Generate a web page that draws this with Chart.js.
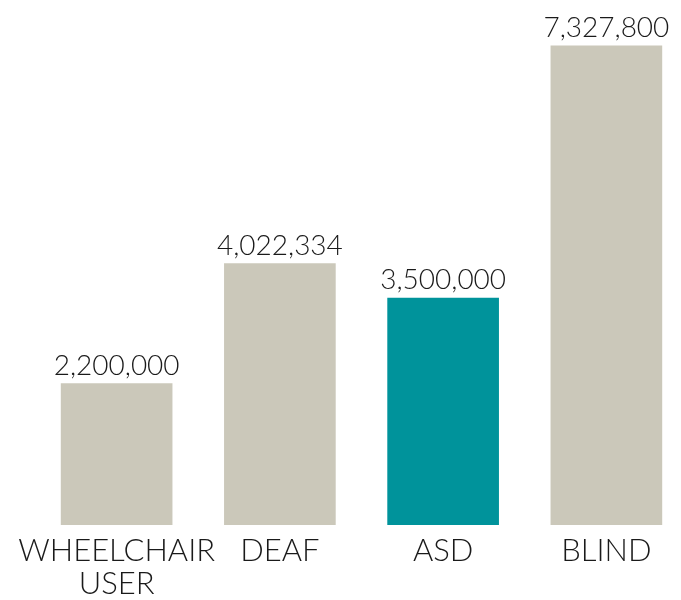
<!DOCTYPE html>
<html>
<head>
<meta charset="utf-8">
<script src="https://cdn.jsdelivr.net/npm/chart.js@4"></script>
<style>
	html, body { margin: 0; padding: 0; background: #fff; overflow: hidden; }
	#wrap { width: 690px; height: 600px; }
</style>
</head>
<body>
<div id="wrap"><canvas id="chart"></canvas></div>
<script>
var categories = [ [ 'WHEELCHAIR', 'USER' ], 'DEAF', 'ASD', 'BLIND' ];
var values = [ 2200000, 4022334, 3500000, 7327800 ];
var barColors = [ '#cbc8ba', '#cbc8ba', '#00939b', '#cbc8ba' ];

var FONT = 'Lato, "Open Sans", sans-serif';

// Draws the value above each bar.
var valueLabels = {
	id: 'valueLabels',
	afterDatasetsDraw: function ( chart ) {
		var ctx = chart.ctx;
		var meta = chart.getDatasetMeta( 0 );
		ctx.save();
		ctx.font = '300 28px ' + FONT;
		ctx.fillStyle = '#1a1a1a';
		ctx.textAlign = 'center';
		ctx.textBaseline = 'alphabetic';
		meta.data.forEach( function ( bar, i ) {
			ctx.fillText( values[ i ].toLocaleString( 'en-US' ), bar.x, bar.y - 9 );
		} );
		ctx.restore();
	}
};

new Chart( document.getElementById( 'chart' ), {
	type: 'bar',
	data: {
		labels: categories,
		datasets: [ {
			data: values,
			backgroundColor: barColors,
			borderWidth: 0,
			barThickness: 111
		} ]
	},
	options: {
		responsive: true,
		maintainAspectRatio: false,
		animation: false,
		layout: { padding: { top: 40, left: 35, right: 2, bottom: 0 } },
		plugins: {
			legend: { display: false },
			tooltip: { enabled: false }
		},
		scales: {
			x: {
				grid: { display: false, drawTicks: false },
				border: { display: false },
				afterFit: function ( scale ) { scale.height = 75; },
				ticks: {
					padding: 10,
					color: '#1a1a1a',
					maxRotation: 0,
					autoSkip: false,
					font: { family: FONT, size: 31, weight: '300', lineHeight: 1.05 }
				}
			},
			y: {
				display: false,
				min: 53000,
				max: 7417700
			}
		}
	},
	plugins: [ valueLabels ]
} );
</script>
</body>
</html>
